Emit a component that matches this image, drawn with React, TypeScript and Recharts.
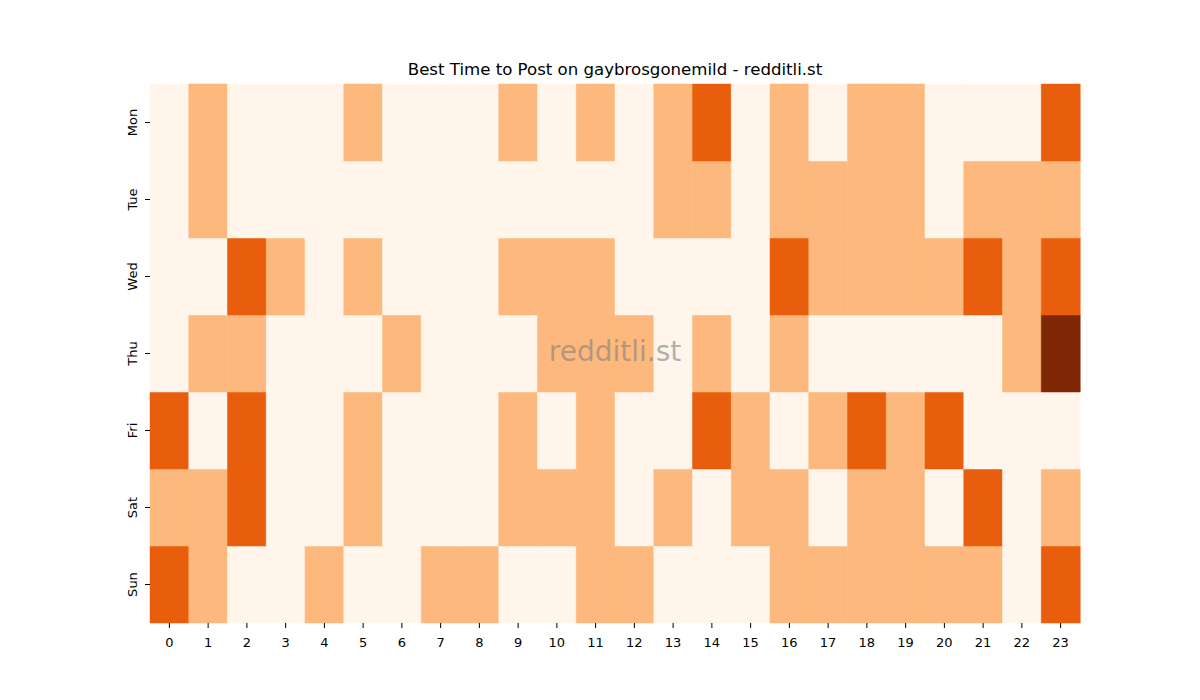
import { Bar, BarChart, Cell, XAxis, YAxis } from "recharts";

const hours = Array.from({ length: 24 }, (_, i) => i);
const days = ["Mon", "Tue", "Wed", "Thu", "Fri", "Sat", "Sun"];

// activity level per hour (0 = low ... 3 = best)
const mon = [0, 1, 0, 0, 0, 1, 0, 0, 0, 1, 0, 1, 0, 1, 2, 0, 1, 0, 1, 1, 0, 0, 0, 2];
const tue = [0, 1, 0, 0, 0, 0, 0, 0, 0, 0, 0, 0, 0, 1, 1, 0, 1, 1, 1, 1, 0, 1, 1, 1];
const wed = [0, 0, 2, 1, 0, 1, 0, 0, 0, 1, 1, 1, 0, 0, 0, 0, 2, 1, 1, 1, 1, 2, 1, 2];
const thu = [0, 1, 1, 0, 0, 0, 1, 0, 0, 0, 1, 1, 1, 0, 1, 0, 1, 0, 0, 0, 0, 0, 1, 3];
const fri = [2, 0, 2, 0, 0, 1, 0, 0, 0, 1, 0, 1, 0, 0, 2, 1, 0, 1, 2, 1, 2, 0, 0, 0];
const sat = [1, 1, 2, 0, 0, 1, 0, 0, 0, 1, 1, 1, 0, 1, 0, 1, 1, 0, 1, 1, 0, 2, 0, 1];
const sun = [2, 1, 0, 0, 1, 0, 0, 1, 1, 0, 0, 1, 1, 0, 0, 0, 1, 1, 1, 1, 1, 1, 0, 2];

const levels: Record<string, number[]> = { Mon: mon, Tue: tue, Wed: wed, Thu: thu, Fri: fri, Sat: sat, Sun: sun };
const palette = ["#fff5eb", "#fdb97d", "#e95e0d", "#7f2704"];

// stacked bottom-up, so Sun goes first
const stackOrder = [...days].reverse();
const rows = hours.map((h) => {
  const row: Record<string, number> = { hour: h };
  days.forEach((d) => (row[d] = 1));
  return row;
});
const yTicks = stackOrder.map((_, i) => i + 0.5);

function DayTick({ x, y, payload }: any) {
  const label = stackOrder[Math.floor(payload.value)];
  return (
    <text x={x} y={y} transform={`rotate(-90 ${x} ${y})`} textAnchor="middle" dy={-6} fill="#000" fontSize={13}>
      {label}
    </text>
  );
}

function HourTick({ x, y, payload }: any) {
  return (
    <text x={x} y={y} textAnchor="middle" dy={17} fill="#000" fontSize={13}>
      {payload.value}
    </text>
  );
}

export default function App() {
  return (
    <div style={{ position: "absolute", left: 0, top: 0, width: 1200, height: 700, background: "#fff", fontFamily: "DejaVu Sans, sans-serif" }}>
      <div style={{ position: "absolute", top: 60, left: 150, width: 930, textAlign: "center", fontSize: 16.6 }}>
        Best Time to Post on gaybrosgonemild - redditli.st
      </div>
      <BarChart
        width={1200}
        height={700}
        data={rows}
        margin={{ top: 84, right: 120, bottom: 47, left: 110 }}
        barCategoryGap={0}
        barGap={0}
      >
        <XAxis
          dataKey="hour"
          axisLine={false}
          tickLine={{ stroke: "#000" }}
          tickSize={5}
          height={30}
          tick={<HourTick />}
          interval={0}
        />
        <YAxis
          type="number"
          domain={[0, 7]}
          ticks={yTicks}
          axisLine={false}
          tickLine={{ stroke: "#000" }}
          tickSize={5}
          width={40}
          tick={<DayTick />}
        />
        {stackOrder.map((day) => (
          <Bar key={day} dataKey={day} stackId="a" isAnimationActive={false}>
            {rows.map((_, i) => (
              <Cell key={i} fill={palette[levels[day][i]]} stroke={palette[levels[day][i]]} strokeWidth={0.5} />
            ))}
          </Bar>
        ))}
      </BarChart>
      <div style={{ position: "absolute", left: 150, width: 930, top: 335, textAlign: "center", fontSize: 28, color: "rgba(128,128,128,0.6)" }}>
        redditli.st
      </div>
    </div>
  );
}
